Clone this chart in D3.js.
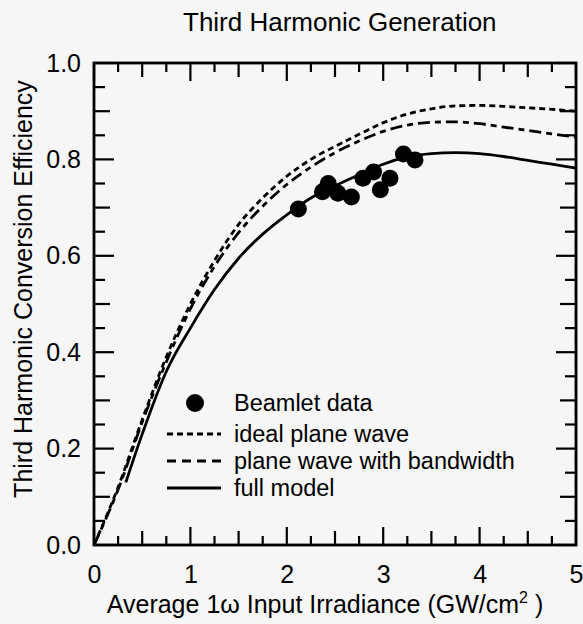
<!DOCTYPE html>
<html>
<head>
<meta charset="utf-8">
<script src="https://cdn.jsdelivr.net/npm/d3@7"></script>
<style>
  body { margin: 0; background: #f6f6f6; }
  svg { font-family: "Liberation Sans", Arial, sans-serif; }
</style>
</head>
<body>
<div id="chart"></div>
<script>
// Data
const beamletX = [2.12, 2.37, 2.43, 2.53, 2.67, 2.79, 2.90, 2.97, 3.07, 3.21, 3.33];
const beamletY = [0.697, 0.733, 0.750, 0.730, 0.722, 0.761, 0.774, 0.737, 0.761, 0.811, 0.799];

const idealX = [0, 0.25, 0.5, 0.75, 1.0, 1.25, 1.5, 1.75, 2.0, 2.25, 2.5, 2.75, 3.0, 3.25, 3.5, 3.75, 4.0, 4.25, 4.5, 4.75, 5.0];
const idealY = [0, 0.12, 0.26, 0.39, 0.50, 0.59, 0.665, 0.72, 0.765, 0.80, 0.827, 0.852, 0.876, 0.894, 0.905, 0.911, 0.912, 0.91, 0.907, 0.904, 0.90];

const bandX = [0, 0.25, 0.5, 0.75, 1.0, 1.25, 1.5, 1.75, 2.0, 2.25, 2.5, 2.75, 3.0, 3.25, 3.5, 3.75, 4.0, 4.25, 4.5, 4.75, 5.0];
const bandY = [0, 0.115, 0.255, 0.38, 0.49, 0.578, 0.648, 0.703, 0.748, 0.784, 0.814, 0.838, 0.858, 0.871, 0.877, 0.878, 0.874, 0.867, 0.86, 0.853, 0.846];

const fullX = [0.33, 0.5, 0.75, 1.0, 1.25, 1.5, 1.75, 2.0, 2.25, 2.5, 2.75, 3.0, 3.25, 3.5, 3.75, 4.0, 4.25, 4.5, 4.75, 5.0];
const fullY = [0.13, 0.23, 0.36, 0.45, 0.53, 0.595, 0.645, 0.685, 0.72, 0.745, 0.768, 0.79, 0.805, 0.812, 0.814, 0.812, 0.806, 0.798, 0.79, 0.782];

const xTicks = [0, 1, 2, 3, 4, 5];
const yTicks = [0, 0.2, 0.4, 0.6, 0.8, 1.0];

const legendLabels = ["Beamlet data", "ideal plane wave", "plane wave with bandwidth", "full model"];

// Layout
const W = 583, H = 624;
const margin = { top: 63, right: 7, bottom: 79, left: 94 };
const width = W - margin.left - margin.right;
const height = H - margin.top - margin.bottom;

const svg = d3.select("#chart").append("svg")
    .attr("width", W)
    .attr("height", H);

const g = svg.append("g")
    .attr("transform", `translate(${margin.left},${margin.top})`);

const x = d3.scaleLinear().domain([0, 5]).range([0, width]);
const y = d3.scaleLinear().domain([0, 1]).range([height, 0]);

// Title
svg.append("text")
    .attr("x", 183)
    .attr("y", 31)
    .style("font-size", "26px")
    .text("Third Harmonic Generation");

// Inward ticks on all four sides
const xMinor = d3.range(0, 5.001, 0.25);
const yMinor = d3.range(0, 1.0001, 0.05);
const xLen = v => Math.abs(v - Math.round(v)) < 1e-6 ? 18 : (Math.abs(v * 2 - Math.round(v * 2)) < 1e-6 ? 14 : 9);
const yLen = v => Math.abs(v * 5 - Math.round(v * 5)) < 1e-6 ? 20 : (Math.abs(v * 10 - Math.round(v * 10)) < 1e-6 ? 16 : 11);

const ticks = g.append("g").attr("stroke", "#000").attr("stroke-width", 2.2);
xMinor.forEach(v => {
    ticks.append("line").attr("x1", x(v)).attr("x2", x(v)).attr("y1", height).attr("y2", height - xLen(v));
    ticks.append("line").attr("x1", x(v)).attr("x2", x(v)).attr("y1", 0).attr("y2", xLen(v));
});
yMinor.forEach(v => {
    ticks.append("line").attr("x1", 0).attr("x2", yLen(v)).attr("y1", y(v)).attr("y2", y(v));
    ticks.append("line").attr("x1", width).attr("x2", width - yLen(v)).attr("y1", y(v)).attr("y2", y(v));
});

// Axes (labels only)
const xAxis = g.append("g")
    .attr("transform", `translate(0,${height})`)
    .call(d3.axisBottom(x).tickValues(xTicks).tickSize(0).tickPadding(20).tickFormat(d3.format("d")));
xAxis.select(".domain").remove();
xAxis.selectAll("text").style("font-size", "25px").attr("fill", "#000");

const yAxis = g.append("g")
    .call(d3.axisLeft(y).tickValues(yTicks).tickSize(0).tickPadding(13).tickFormat(d3.format(".1f")));
yAxis.select(".domain").remove();
yAxis.selectAll("text").style("font-size", "25px").attr("fill", "#000");

// Frame
g.append("rect")
    .attr("width", width)
    .attr("height", height)
    .attr("fill", "none")
    .attr("stroke", "#000")
    .attr("stroke-width", 2.8);

// Axis titles
svg.append("text")
    .attr("x", 325)
    .attr("y", 613)
    .attr("text-anchor", "middle")
    .style("font-size", "25px")
    .html('Average 1\u03C9 Input Irradiance (GW/cm<tspan dy="-10" font-size="16px">2</tspan><tspan dy="10"> )</tspan>');

svg.append("text")
    .attr("transform", `translate(32,${margin.top + height / 2 - 15}) rotate(-90)`)
    .attr("text-anchor", "middle")
    .style("font-size", "25px")
    .text("Third Harmonic Conversion Efficiency");

// Curves
const line = d3.line()
    .x(d => x(d[0]))
    .y(d => y(d[1]))
    .curve(d3.curveMonotoneX);

const series = [
    { xs: idealX, ys: idealY, dash: "6,4" },
    { xs: bandX, ys: bandY, dash: "12,5,6,5" },
    { xs: fullX, ys: fullY, dash: null }
];

series.forEach(s => {
    g.append("path")
        .datum(s.xs.map((v, i) => [v, s.ys[i]]))
        .attr("d", line)
        .attr("fill", "none")
        .attr("stroke", "#000")
        .attr("stroke-width", 2.8)
        .attr("stroke-dasharray", s.dash);
});

// Beamlet points
g.append("g")
    .selectAll("circle")
    .data(beamletX.map((v, i) => [v, beamletY[i]]))
    .enter()
    .append("circle")
    .attr("cx", d => x(d[0]))
    .attr("cy", d => y(d[1]))
    .attr("r", 8.5)
    .attr("fill", "#000");

// Legend
const leg = svg.append("g");
const legY = [403, 434, 461, 488];
leg.append("circle").attr("cx", 195).attr("cy", legY[0]).attr("r", 9).attr("fill", "#000");
[1, 2, 3].forEach(i => {
    leg.append("line")
        .attr("x1", 167).attr("x2", 221)
        .attr("y1", legY[i]).attr("y2", legY[i])
        .attr("stroke", "#000")
        .attr("stroke-width", 2.8)
        .attr("stroke-dasharray", i === 2 ? "9,6" : series[i - 1].dash);
});
legendLabels.forEach((t, i) => {
    leg.append("text")
        .attr("x", 234)
        .attr("y", legY[i] + 8)
        .style("font-size", "23.5px")
        .text(t);
});
</script>
</body>
</html>
